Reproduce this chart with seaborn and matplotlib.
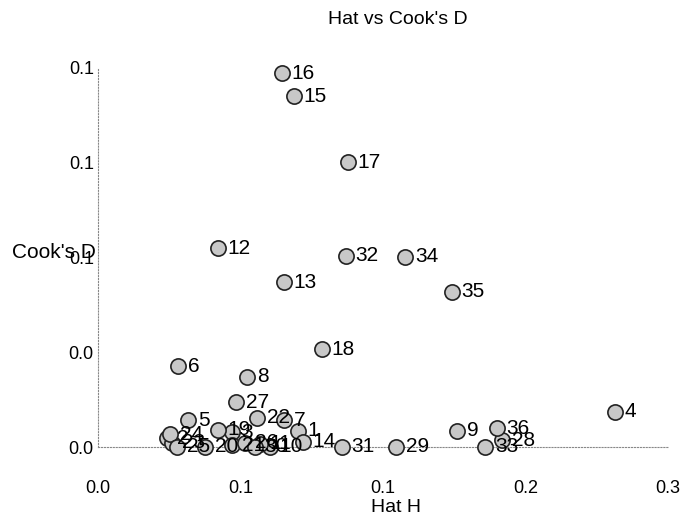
import pandas as pd
import matplotlib.pyplot as plt
import seaborn as sns

# Leverage (hat) vs Cook's distance, one point per observation
obs = [str(i) for i in range(1, 37)]
hat = [0.1053, 0.0363, 0.0705, 0.2721, 0.0474, 0.0421, 0.0979, 0.0784, 0.1889, 0.0905,
       0.0853, 0.0632, 0.0979, 0.1079, 0.1032, 0.0968, 0.1316, 0.1179, 0.0632, 0.0563,
       0.0705, 0.0837, 0.0389, 0.0379, 0.0416, 0.0774, 0.0726, 0.2126, 0.1568, 0.0826,
       0.1284, 0.1305, 0.2037, 0.1616, 0.1863, 0.2100]
cooks_d = [0.0051, 0.0028, 0.0047, 0.0111, 0.0085, 0.0256, 0.0085, 0.0222, 0.0051, 0.0000,
           0.0010, 0.0630, 0.0522, 0.0016, 0.1111, 0.1184, 0.0902, 0.0310, 0.0054, 0.0000,
           0.0006, 0.0092, 0.0013, 0.0041, 0.0000, 0.0013, 0.0142, 0.0022, 0.0000, 0.0000,
           0.0000, 0.0605, 0.0000, 0.0602, 0.0491, 0.0060]
x_ticks = [0.0, 0.075, 0.15, 0.225, 0.3]
y_ticks = [0.0, 0.03, 0.06, 0.09, 0.12]

df = pd.DataFrame({'obs': obs, 'hat': hat, 'cooks_d': cooks_d})

sns.set_style("white")
plt.rcParams['font.family'] = ['Liberation Sans', 'DejaVu Sans']
plt.rcParams['text.color'] = 'black'

fig = plt.figure(figsize=(6.88, 5.17), dpi=100)
ax = fig.add_axes([98 / 688, 1 - 447 / 517, 570 / 688, 379 / 517])

sns.scatterplot(data=df, x='hat', y='cooks_d', ax=ax, s=120, color='#c8c8c8',
                edgecolor='#222222', linewidth=1.2, clip_on=False, zorder=3)

for _, row in df.iterrows():
    ax.annotate(row['obs'], (row['hat'], row['cooks_d']), xytext=(7, 0),
                textcoords='offset points', va='center', ha='left',
                fontsize=15, color='black', zorder=4)

ax.set_xlim(0, 0.3)
ax.set_ylim(0, 0.12)
ax.set_xticks(x_ticks)
ax.set_yticks(y_ticks)
ax.set_xticklabels([f"{v:.1f}" for v in x_ticks])
ax.set_yticklabels([f"{v:.1f}" for v in y_ticks])
ax.tick_params(axis='x', length=0, pad=24, labelsize=13, labelcolor='black')
ax.tick_params(axis='y', length=0, pad=3, labelsize=13, labelcolor='black')

for side in ['top', 'right']:
    ax.spines[side].set_visible(False)
for side in ['left', 'bottom']:
    ax.spines[side].set_linestyle(':')
    ax.spines[side].set_color('#888888')
    ax.spines[side].set_linewidth(0.8)

ax.set_xlabel("")
ax.set_ylabel("")
fig.text(396 / 688, 1 - 508 / 517, "Hat H", fontsize=14, ha='center', va='center')
fig.text(12 / 688, 1 - 253 / 517, "Cook's D", fontsize=15, ha='left', va='center')
fig.text(398 / 688, 1 - 20 / 517, "Hat vs Cook's D", fontsize=14, ha='center', va='center')

fig.savefig("out.png", dpi=100)
plt.close(fig)
